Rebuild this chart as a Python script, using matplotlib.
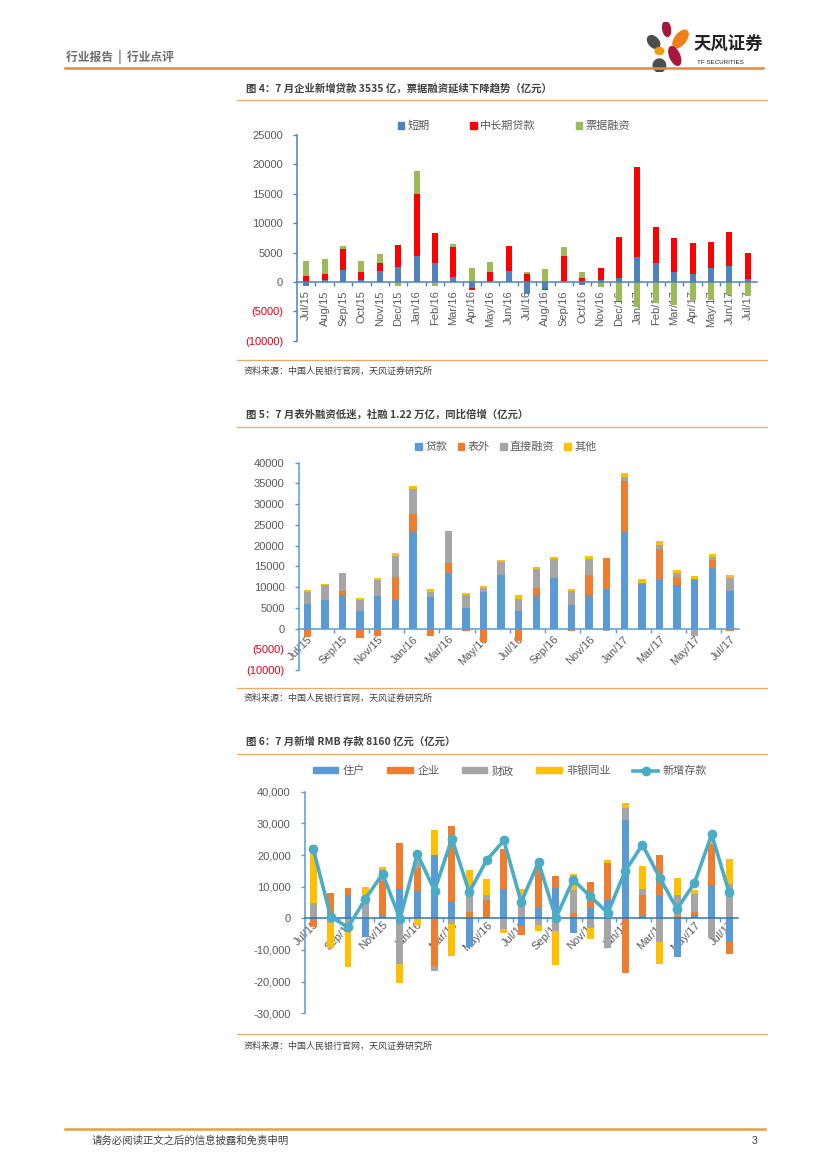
import numpy as np
import matplotlib
matplotlib.use('Agg')
from matplotlib import pyplot as plt
from matplotlib.patches import Patch, Ellipse
from matplotlib.lines import Line2D

plt.rcParams['font.family'] = ['Liberation Sans', 'Noto Sans CJK SC', 'DejaVu Sans']
CJK = ['Noto Sans CJK SC', 'DejaVu Sans']

W, H = 827, 1169

months = ['Jul/15', 'Aug/15', 'Sep/15', 'Oct/15', 'Nov/15', 'Dec/15',
          'Jan/16', 'Feb/16', 'Mar/16', 'Apr/16', 'May/16', 'Jun/16',
          'Jul/16', 'Aug/16', 'Sep/16', 'Oct/16', 'Nov/16', 'Dec/16',
          'Jan/17', 'Feb/17', 'Mar/17', 'Apr/17', 'May/17', 'Jun/17', 'Jul/17']

# fig 4: new corporate loans (亿元)
short_term = [-700, 400, 2100, 300, 1800, 2600, 4400, 3300, 850, -1000, 200, 1900, -2000,
              -1250, 100, -500, 400, 700, 4300, 3300, 1750, 1400, 2400, 2700, 500]
mid_long = [1000, 1000, 3500, 1400, 1400, 3600, 10600, 5000, 5050, -450, 1500, 4200, 1400,
            -170, 4300, 600, 2000, 7000, 15200, 6100, 5650, 5300, 4400, 5800, 4400]
bill = [2500, 2450, 500, 1900, 1500, -700, 3800, -700, 500, 2400, 1650, 0, 350,
        2200, 1550, 1100, -900, -3300, -4200, -3600, -3900, -3000, -3000, -2200, -2400]

# fig 5: social financing (亿元)
loan = [5800, 7000, 8100, 4200, 7800, 7000, 23600, 7600, 13300, 5000, 8900, 12900, 4200,
        8100, 12150, 5700, 8100, 9500, 23200, 10700, 11750, 10500, 11600, 14550, 9000]
off_bal = [-2000, -100, 900, -2400, -1850, 5350, 4000, -1750, 2400, -650, -3200, -200, -3000,
           1750, 0, -500, 4800, 7450, 12400, 300, 7500, 1850, 250, 2100, -650]
direct = [3000, 3400, 4500, 2650, 3850, 5050, 6000, 1300, 7750, 3050, 950, 3200, 3000,
          4400, 4650, 3350, 3900, -500, 1000, -300, 950, 1050, -1900, 500, 3200]
other = [600, 400, -200, 550, 550, 700, 800, 650, 100, 500, 400, 550, 850,
         550, 550, 550, 800, 100, 800, 1050, 950, 650, 800, 800, 800]

# fig 6: RMB deposits (亿元)
household = [0, 0, 7500, -6000, 850, 9300, 8770, 19900, 5600, -9200, 300, 9300, -2300,
             3700, 9600, -4750, 3200, 5900, 31000, 850, 7000, -12200, 1050, 10600, -7600]
corporate = [-2850, 8000, 2100, 0, 11000, 14600, 7200, -15000, 23500, 1900, 5500, 12700, -2850,
             13000, 3900, 1800, 8200, 11500, -17400, 6650, 13100, 600, 1050, 13000, -3700]
fiscal = [4860, -1500, -4400, 6100, 3400, -14300, 2300, -1600, -1800, 6300, 1600, -3400, 4000,
          -2000, -3900, 7000, -3200, -9500, 4000, 1700, -7600, 6700, 5600, -6200, 10900]
nonbank = [18400, -8000, -11100, 3900, 1100, -6200, -2000, 8100, -10000, 7100, 5100, -1100, 5300,
           -1900, -10900, 5100, -3200, 1100, 1300, 7200, -6900, 5500, 1300, 1050, 7900]
new_dep = [21800, 530, -2850, 6130, 14060, -200, 20400, 8770, 25200, 8250, 18300, 24600, 5070,
           17750, 100, 12150, 6900, 1700, 14900, 23250, 12800, 2960, 11100, 26500, 8250]

GREY = '#595959'
ORANGE = '#E9873A'


def fx(x):
    return x / W


def fy(y):
    return 1 - y / H


def px_axes(fig, left, top, right, bottom):
    return fig.add_axes([fx(left), fy(bottom), (right - left) / W, (bottom - top) / H])


def hline(fig, x0, x1, y, color=ORANGE, lw=0.8):
    fig.add_artist(Line2D([fx(x0), fx(x1)], [fy(y), fy(y)], transform=fig.transFigure,
                          color=color, lw=lw))


def stacked(ax, series, colors, width):
    x = np.arange(len(series[0]))
    pos = np.zeros(len(x))
    neg = np.zeros(len(x))
    for vals, c in zip(series, colors):
        v = np.asarray(vals, dtype=float)
        bottom = np.where(v >= 0, pos, neg)
        ax.bar(x, v, width, bottom=bottom, color=c, zorder=2)
        pos = pos + np.clip(v, 0, None)
        neg = neg + np.clip(v, None, 0)


def style_axes(ax, axcolor, ylim, step, fmt):
    ax.set_xlim(-0.5, len(months) - 0.5)
    ax.set_ylim(*ylim)
    for s in ('top', 'right'):
        ax.spines[s].set_visible(False)
    ax.spines['left'].set_color(axcolor)
    ax.spines['left'].set_linewidth(1.1)
    ax.spines['bottom'].set_position(('data', 0))
    ax.spines['bottom'].set_color(axcolor)
    ax.spines['bottom'].set_linewidth(1.1)
    ax.spines['bottom'].set_zorder(3)
    ticks = np.arange(ylim[0], ylim[1] + 1, step)
    ax.set_yticks(ticks)
    ax.set_yticklabels([fmt(t) for t in ticks])
    ax.tick_params(axis='y', colors=axcolor, length=3, width=1, pad=7, labelsize=8)
    for lab, t in zip(ax.get_yticklabels(), ticks):
        lab.set_color('#E0001B' if (t < 0 and '(' in lab.get_text()) else GREY)
    ax.tick_params(axis='x', which='major', length=0, labelsize=8, labelcolor=GREY)
    ax.tick_params(axis='x', which='minor', length=3, width=1, color=axcolor)


def paren(t):
    return '(%d)' % abs(t) if t < 0 else '%d' % t


fig = plt.figure(figsize=(W / 100, H / 100), dpi=100)

# page header
fig.text(fx(66), fy(57), '行业报告  |  行业点评', family=CJK, fontsize=8.5, color='#6b6b6b',
         weight='bold', va='center')
hline(fig, 65, 763, 68, ORANGE, 1.8)
logo = px_axes(fig, 645, 22, 693, 72)
logo.set_xlim(0, 1)
logo.set_ylim(0, 1)
logo.axis('off')
for (cx, cy, w, h, a, c) in [(0.45, 0.86, 0.16, 0.3, 10, '#A6173D'),
                             (0.74, 0.66, 0.22, 0.42, -40, '#EE7F1A'),
                             (0.18, 0.6, 0.2, 0.3, 45, '#4D4D4D'),
                             (0.3, 0.42, 0.18, 0.14, 0, '#F39800'),
                             (0.62, 0.32, 0.2, 0.4, 25, '#A6173D'),
                             (0.3, 0.13, 0.26, 0.26, -20, '#4D4D4D')]:
    logo.add_patch(Ellipse((cx, cy), w, h, angle=a, color=c))
fig.text(fx(694), fy(45), '天风证券', family=CJK, fontsize=12.5, weight='bold',
         color='#222222', va='center')
fig.text(fx(697), fy(62), 'TF SECURITIES', fontsize=4.5, color='#222222', va='center')


def frame(title, y_title, y_line_top, y_line_bot, y_src):
    fig.text(fx(246), fy(y_title), title, family=CJK, fontsize=7.5, weight='bold',
             color='#404040', va='center')
    hline(fig, 237, 767, y_line_top, '#F0A868', 0.9)
    hline(fig, 237, 767, y_line_bot, '#F0A868', 0.9)
    fig.text(fx(244), fy(y_src), '资料来源：中国人民银行官网，天风证券研究所', family=CJK,
             fontsize=6.5, color='#404040', va='center')


# ---------- fig 4 ----------
frame('图 4：7 月企业新增贷款 3535 亿，票据融资延续下降趋势（亿元）', 88, 100, 360, 371)
ax1 = px_axes(fig, 297, 135, 757, 340.7)
c1 = ['#4F81BD', '#FF0000', '#9BBB59']
stacked(ax1, [short_term, mid_long, bill], c1, 0.32)
style_axes(ax1, '#4F81BD', (-10000, 25000), 5000, paren)
ax1.set_xticks(range(len(months)))
ax1.set_xticklabels(months, rotation=90)
ax1.set_xticks(np.arange(0.5, len(months) - 1, 1), minor=True)
ax1.tick_params(axis='x', which='major', pad=6)
h1 = [Patch(color=c) for c in c1]
ax1.legend(h1, ['短期', '中长期贷款', '票据融资'], loc='center', ncol=3, frameon=False,
           bbox_to_anchor=(fx(514), fy(126)), bbox_transform=fig.transFigure,
           prop={'family': CJK, 'size': 8}, labelcolor=GREY, handlelength=0.6,
           handleheight=0.6, handletextpad=0.3, columnspacing=3.6)

# ---------- fig 5 ----------
frame('图 5：7 月表外融资低迷，社融 1.22 万亿，同比倍增（亿元）', 414, 427, 688, 698)
ax2 = px_axes(fig, 298.5, 462.7, 738.8, 670)
c2 = ['#5B9BD5', '#ED7D31', '#A5A5A5', '#FFC000']
stacked(ax2, [loan, off_bal, direct, other], c2, 0.42)
style_axes(ax2, '#5B9BD5', (-10000, 40000), 5000, paren)
ax2.set_xticks(range(0, len(months), 2))
ax2.set_xticklabels(months[::2], rotation=45, ha='right', rotation_mode='anchor')
ax2.set_xticks(np.arange(1.5, len(months) - 1, 2), minor=True)
ax2.tick_params(axis='x', which='major', pad=4)
h2 = [Patch(color=c) for c in c2]
ax2.legend(h2, ['贷款', '表外', '直接融资', '其他'], loc='center', ncol=4, frameon=False,
           bbox_to_anchor=(fx(506), fy(447)), bbox_transform=fig.transFigure,
           prop={'family': CJK, 'size': 8}, labelcolor=GREY, handlelength=0.6,
           handleheight=0.6, handletextpad=0.3, columnspacing=0.9)

# ---------- fig 6 ----------
frame('图 6：7 月新增 RMB 存款 8160 亿元（亿元）', 742, 754, 1034, 1046)
ax3 = px_axes(fig, 304.7, 791.7, 737.7, 1013.3)
stacked(ax3, [household, corporate, fiscal, nonbank], c2, 0.4)
ax3.plot(range(len(months)), new_dep, color='#4BACC6', lw=2.6, marker='o', ms=6, zorder=4)
style_axes(ax3, '#5B9BD5', (-30000, 40000), 10000, lambda t: '{:,}'.format(int(t)))
ax3.spines['bottom'].set_color('#2F75B5')
ax3.set_xticks(range(0, len(months), 2))
ax3.set_xticklabels(months[::2], rotation=45, ha='right', rotation_mode='anchor')
ax3.set_xticks(np.arange(1.5, len(months) - 1, 2), minor=True)
ax3.tick_params(axis='x', which='major', pad=1)
h3 = [Patch(color=c) for c in c2] + [Line2D([], [], color='#4BACC6', lw=2.6, marker='o', ms=6)]
ax3.legend(h3, ['住户', '企业', '财政', '非银同业', '新增存款'], loc='center', ncol=5,
           frameon=False, bbox_to_anchor=(fx(510), fy(771)), bbox_transform=fig.transFigure,
           prop={'family': CJK, 'size': 8}, labelcolor=GREY, handlelength=2.3,
           handleheight=0.45, handletextpad=0.4, columnspacing=2.0)

# footer
hline(fig, 65, 765, 1129, '#E9A03A', 1.8)
fig.text(fx(92), fy(1141), '请务必阅读正文之后的信息披露和免责申明', family=CJK, fontsize=7.5,
         color='#404040', va='center')
fig.text(fx(752), fy(1141), '3', fontsize=7.5, color='#404040', va='center')

fig.savefig('out.png', dpi=100)
